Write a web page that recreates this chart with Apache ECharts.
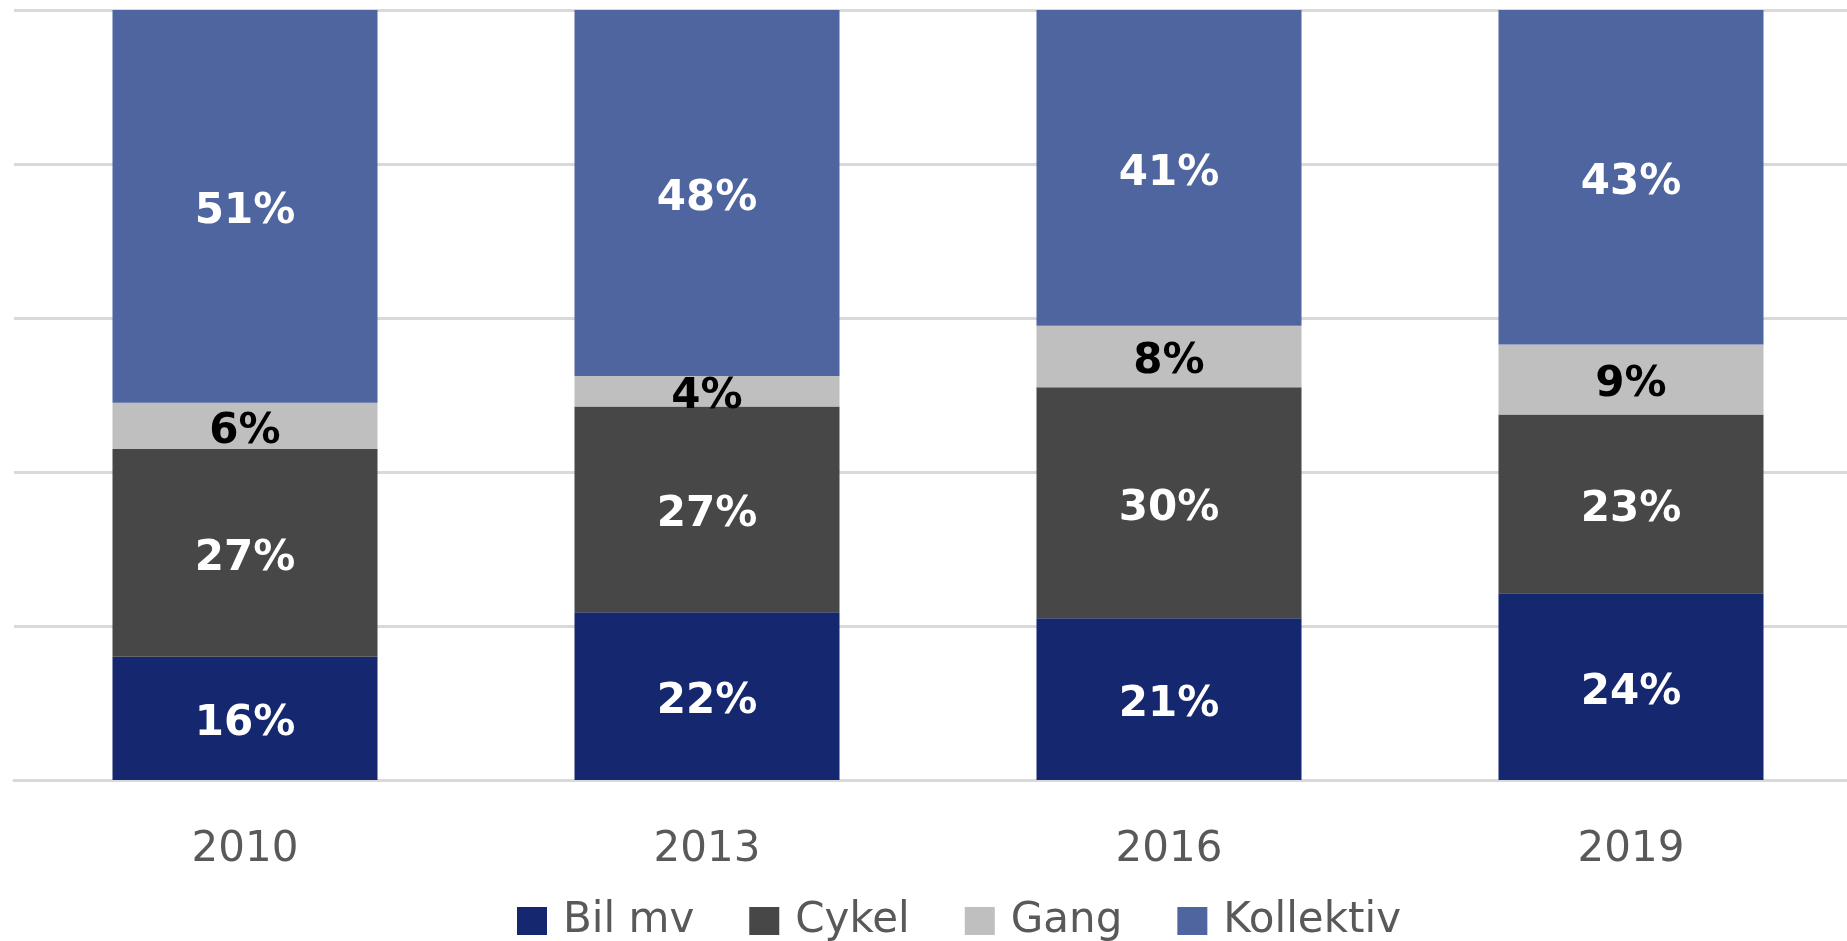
<!DOCTYPE html>
<html>
<head>
<meta charset="utf-8">
<script src="https://cdn.jsdelivr.net/npm/echarts@6/dist/echarts.min.js"></script>
<style>
html,body{margin:0;padding:0;background:#fff;overflow:hidden;}
#c{width:1862px;height:941px;}
</style>
</head>
<body>
<div id="c"></div>
<script>
const categories = ['2010', '2013', '2016', '2019'];
const seriesNames = ['Bil mv', 'Cykel', 'Gang', 'Kollektiv'];
const bilMv = [16, 22, 21, 24];
const cykel = [27, 27, 30, 23];
const gang = [6, 4, 8, 9];
const kollektiv = [51, 48, 41, 43];
const colors = ['#14276f', '#474747', '#bfbfbf', '#4f65a0'];
const labelColors = ['#ffffff', '#ffffff', '#000000', '#ffffff'];

const raw = [bilMv, cykel, gang, kollektiv];
// 100% stacked: heights as share of each year's total, labels show the given values
const totals = categories.map((_, i) => raw.reduce((s, arr) => s + arr[i], 0));

const chart = echarts.init(document.getElementById('c'));
chart.setOption({
  animation: false,
  textStyle: { fontFamily: 'DejaVu Sans' },
  grid: { left: 14, right: 0, top: 10, height: 770, containLabel: false },
  legend: {
    data: seriesNames,
    left: 512,
    top: 895,
    itemWidth: 30,
    itemHeight: 28,
    itemGap: 55,
    icon: 'rect',
    textStyle: { fontFamily: 'DejaVu Sans', fontSize: 42, color: '#595959', padding: [0, 0, 0, 11] }
  },
  xAxis: {
    type: 'category',
    data: categories,
    axisTick: { show: false },
    axisLine: { show: true, lineStyle: { color: '#d9d9d9', width: 3 } },
    axisLabel: { color: '#595959', fontSize: 42, fontFamily: 'DejaVu Sans', margin: 49 }
  },
  yAxis: {
    type: 'value',
    min: 0,
    max: 100,
    interval: 20,
    axisLabel: { show: false },
    axisLine: { show: false },
    axisTick: { show: false },
    splitLine: { lineStyle: { color: '#d9d9d9', width: 3 } }
  },
  series: raw.map((arr, k) => ({
    name: seriesNames[k],
    type: 'bar',
    stack: 'total',
    barWidth: 265,
    itemStyle: { color: colors[k] },
    label: {
      show: true,
      position: 'inside',
      offset: [0, 6],
      fontFamily: 'DejaVu Sans',
      fontWeight: 'bold',
      fontSize: 42,
      color: labelColors[k],
      formatter: p => arr[p.dataIndex] + '%'
    },
    data: arr.map((v, i) => v / totals[i] * 100)
  }))
});
</script>
</body>
</html>
